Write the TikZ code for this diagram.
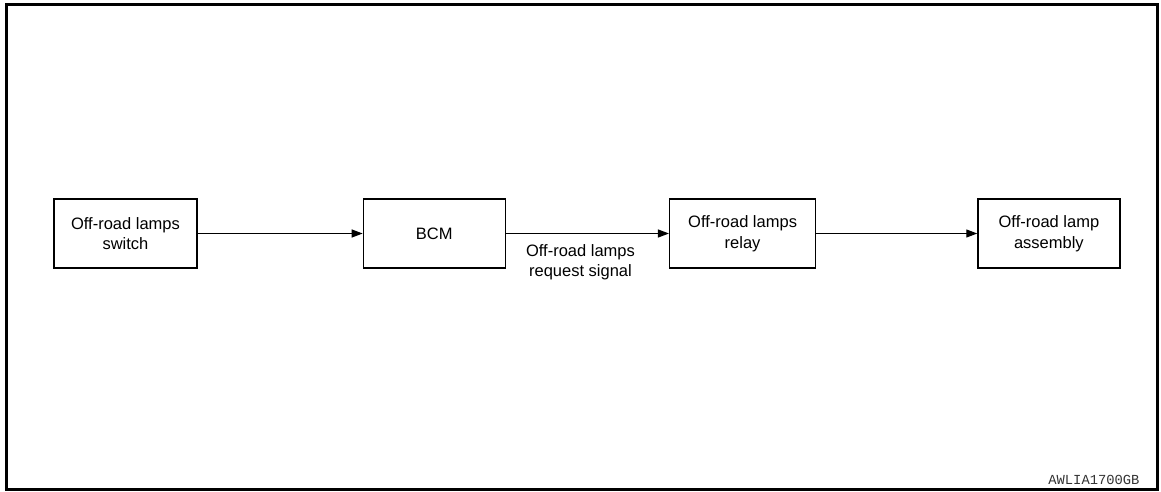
\documentclass[tikz,border=0pt]{standalone}
\usepackage{fontspec}
\setmainfont{Liberation Sans}
\newfontfamily\codefont{Liberation Mono}
\usetikzlibrary{positioning,arrows.meta}

\tikzset{
  unit/.style={draw, line width=1.3pt, minimum width=143pt, minimum height=69pt,
    align=center, inner sep=2pt, font=\fontsize{16.5}{20.5}\selectfont},
  flow/.style={line width=1.2pt, -{Triangle[length=11pt,width=8pt]}}
}

\begin{document}
\begin{tikzpicture}[x=1pt, y=-1pt]

% frame
\useasboundingbox (0,0) rectangle (1161,492);
\draw[line width=3pt] (6.5,4.5) rectangle (1157,489.5);

% blocks
\node[unit] (sw) at (125.5,233.5) {Off-road lamps\\switch};
\node[unit, right=165pt of sw, minimum width=142pt] (bcm) {BCM};
\node[unit, right=163pt of bcm, minimum width=146pt] (relay) {Off-road lamps\\relay};
\node[unit, right=161pt of relay, minimum width=142pt] (lamp) {Off-road lamp\\assembly};

% signals
\draw[flow] (sw) -- (bcm);
\draw[flow] (bcm) -- node[below=7pt, xshift=-7pt, align=center,
  font=\fontsize{16.5}{20.5}\selectfont] (req) {Off-road lamps\\request signal} (relay);
\draw[flow] (relay) -- (lamp);

% figure code
\node[anchor=base east, font=\codefont\fontsize{13.8}{15}\selectfont, text=black!80]
  (code) at (1143,484) {AWLIA1700GB};

\end{tikzpicture}
\end{document}
